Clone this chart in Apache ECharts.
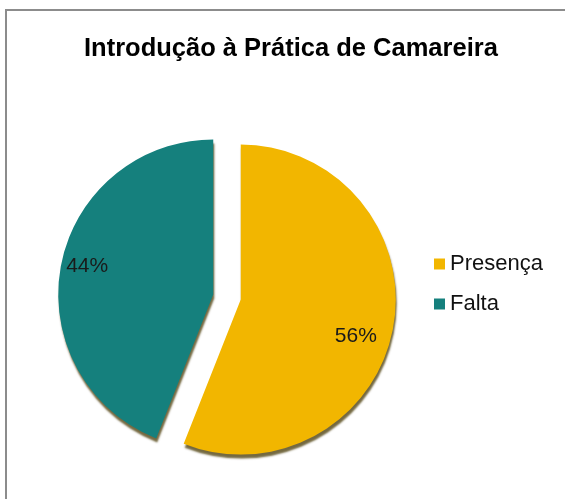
<!DOCTYPE html>
<html>
<head>
<meta charset="utf-8">
<script src="https://cdn.jsdelivr.net/npm/echarts@6/dist/echarts.min.js"></script>
<style>
  html, body { margin: 0; padding: 0; background: #ffffff; overflow: hidden; width: 565px; height: 499px; }
  #frame { position: absolute; left: 5px; top: 9px; width: 560px; height: 490px;
           border-left: 2px solid #8c8c8c; border-top: 2px solid #8c8c8c; box-sizing: border-box; }
  #chart { position: absolute; left: 0; top: 0; width: 565px; height: 499px; }
</style>
</head>
<body>
<div id="frame"></div>
<div id="chart"></div>
<script>
const titleText = 'Introdução à Prática de Camareira';
const categories = ['Presença', 'Falta'];
const values = [56, 44];
const colors = ['#F2B600', '#15807D'];

const FONT = "'Liberation Sans', Arial, sans-serif";

const chart = echarts.init(document.getElementById('chart'), null, { renderer: 'canvas' });

const data = categories.map((name, i) => ({
  name: name,
  value: values[i],
  selected: true,
  itemStyle: { color: colors[i] }
}));

chart.setOption({
  backgroundColor: 'transparent',
  animation: false,
  title: {
    text: titleText,
    left: 79,
    top: 31,
    textStyle: { fontFamily: FONT, fontSize: 25.5, fontWeight: 'bold', color: '#000000' }
  },
  legend: {
    data: categories,
    orient: 'vertical',
    left: 429,
    top: 248,
    itemWidth: 11,
    itemHeight: 11,
    itemGap: 18,
    icon: 'rect',
    textStyle: { fontFamily: FONT, fontSize: 22, color: '#111111' }
  },
  series: [{
    type: 'pie',
    center: [227, 297],
    radius: 155,
    startAngle: 90,
    clockwise: true,
    selectedMode: 'multiple',
    selectedOffset: 14,
    data: data,
    itemStyle: {
      shadowColor: 'rgba(70,55,0,0.75)',
      shadowOffsetY: 4,
      shadowOffsetX: 1,
      shadowBlur: 2
    },
    label: {
      show: true,
      position: 'inside',
      formatter: p => Math.round(p.percent) + '%',
      fontFamily: FONT,
      fontSize: 21,
      color: '#1a1a1a'
    },
    labelLayout: function (params) {
      return params.dataIndex === 1 ? { dx: -47, dy: -13 } : { dx: 36, dy: 21 };
    },
    labelLine: { show: false },
    emphasis: { disabled: true }
  }]
});
</script>
</body>
</html>
